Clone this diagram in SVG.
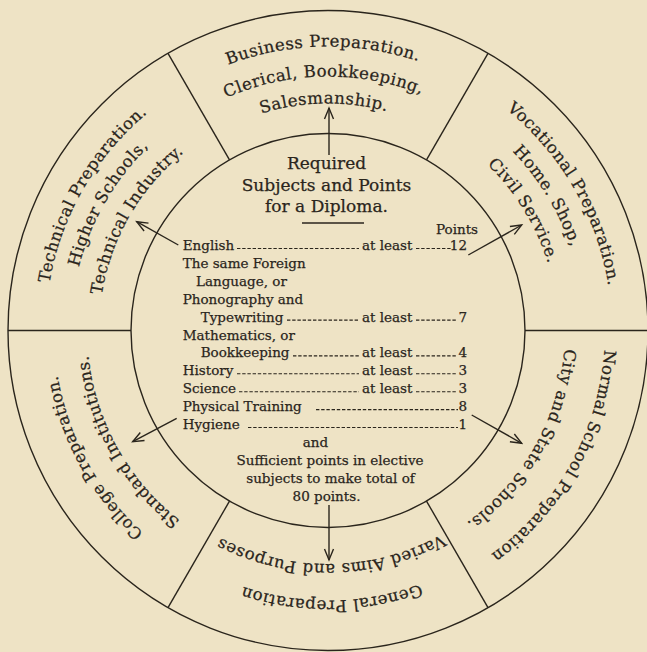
<svg xmlns="http://www.w3.org/2000/svg" width="647" height="652" viewBox="0 0 647 652">
<style>
.ink{stroke:#2a251c;fill:none}
.ring{stroke:#2a251c;fill:none;stroke-width:1.4}
.t{font-family:"DejaVu Serif","Liberation Serif",serif;fill:#2a251c;stroke:#2a251c;stroke-width:0.25}
.title{font-size:17px;text-anchor:middle}
.tb{font-size:13.5px}
.rt{font-size:16.5px;letter-spacing:0.5px}
.lead{stroke:#2a251c;stroke-width:1.1;stroke-dasharray:3.4 1.8;fill:none}
.arr{stroke:#2a251c;stroke-width:1.4;fill:none;marker-end:url(#ah)}
</style>
<defs>
<marker id="ah" viewBox="-13 -7 15 14" markerWidth="15" markerHeight="14" refX="0" refY="0" orient="auto" markerUnits="userSpaceOnUse">
<path d="M-11,-4.5 L0,0 L-11,4.5" fill="none" stroke="#2a251c" stroke-width="1.4"/>
</marker>
<path id="pTop1" d="M107.3,151.8 A284,284 0 0 1 542.3,144.2"/>
<path id="pTop2" d="M130.6,170.7 A254,254 0 0 1 519.7,163.9"/>
<path id="pTop3" d="M151.6,187.6 A227,227 0 0 1 499.3,181.6"/>
<path id="pTL1" d="M62.5,427.1 A282.5,282.5 0 0 1 279.0,52.3"/>
<path id="pTL2" d="M86.5,418.4 A257,257 0 0 1 283.4,77.4"/>
<path id="pTL3" d="M112.8,408.8 A229,229 0 0 1 288.2,105.0"/>
<path id="pTR1" d="M377.3,50.8 A284,284 0 0 1 594.9,427.6"/>
<path id="pTR2" d="M372.6,77.4 A257,257 0 0 1 569.5,418.4"/>
<path id="pTR3" d="M367.9,104.0 A230,230 0 0 1 544.1,409.2"/>
<path id="pBR1" d="M588.3,235.8 A277,277 0 0 1 376.1,603.3"/>
<path id="pBR2" d="M550.7,249.4 A237,237 0 0 1 369.1,563.9"/>
<path id="pB1" d="M534.8,504.1 A270,270 0 0 1 121.2,504.1"/>
<path id="pB2" d="M506.9,480.6 A233.5,233.5 0 0 1 149.1,480.6"/>
<path id="pBL1" d="M280.4,600.3 A274,274 0 0 1 70.5,236.8"/>
<path id="pBL2" d="M286.2,567.8 A241,241 0 0 1 101.5,248.1"/>
</defs>
<rect x="0" y="0" width="647" height="652" fill="#EEE3C5"/>

<g id="frame">
<circle class="ring" cx="328" cy="330.5" r="320"/>
<circle class="ring" cx="328" cy="330.5" r="197"/>
<line class="ring" x1="8" y1="330.5" x2="131" y2="330.5"/>
<line class="ring" x1="525" y1="330.5" x2="648" y2="330.5"/>
<line class="ring" x1="168" y1="53.4" x2="229.5" y2="159.9"/>
<line class="ring" x1="488" y1="53.4" x2="426.5" y2="159.9"/>
<line class="ring" x1="168" y1="607.6" x2="229.5" y2="501.1"/>
<line class="ring" x1="488" y1="607.6" x2="426.5" y2="501.1"/>
</g>

<g id="center">
<text class="t title" x="326.5" y="169">Required</text>
<text class="t title" x="326.5" y="190.5">Subjects and Points</text>
<text class="t title" x="326.5" y="212">for a Diploma.</text>
<line class="ink" x1="302" y1="223" x2="364" y2="223" stroke-width="1.4"/>
<text class="t tb" x="457" y="234" text-anchor="middle">Points</text>

<text class="t tb" x="182.7" y="250">English</text>
<text class="t tb" x="362" y="250">at least</text>
<text class="t tb" x="467" y="250" text-anchor="end">12</text>
<line class="lead" x1="237" y1="248.5" x2="359" y2="248.5"/>
<line class="lead" x1="416" y1="248.5" x2="452" y2="248.5"/>

<text class="t tb" x="182.7" y="267.9">The same Foreign</text>
<text class="t tb" x="196" y="285.8">Language, or</text>
<text class="t tb" x="182.7" y="303.7">Phonography and</text>

<text class="t tb" x="200.7" y="321.6">Typewriting</text>
<text class="t tb" x="362" y="321.6">at least</text>
<text class="t tb" x="467" y="321.6" text-anchor="end">7</text>
<line class="lead" x1="287" y1="320.1" x2="359" y2="320.1"/>
<line class="lead" x1="416" y1="320.1" x2="457" y2="320.1"/>

<text class="t tb" x="182.7" y="339.5">Mathematics, or</text>
<text class="t tb" x="200.7" y="357.4">Bookkeeping</text>
<text class="t tb" x="362" y="357.4">at least</text>
<text class="t tb" x="467" y="357.4" text-anchor="end">4</text>
<line class="lead" x1="293" y1="355.9" x2="359" y2="355.9"/>
<line class="lead" x1="416" y1="355.9" x2="457" y2="355.9"/>

<text class="t tb" x="182.7" y="375.3">History</text>
<text class="t tb" x="362" y="375.3">at least</text>
<text class="t tb" x="467" y="375.3" text-anchor="end">3</text>
<line class="lead" x1="237" y1="373.8" x2="359" y2="373.8"/>
<line class="lead" x1="416" y1="373.8" x2="457" y2="373.8"/>

<text class="t tb" x="182.7" y="393.2">Science</text>
<text class="t tb" x="362" y="393.2">at least</text>
<text class="t tb" x="467" y="393.2" text-anchor="end">3</text>
<line class="lead" x1="239" y1="391.7" x2="359" y2="391.7"/>
<line class="lead" x1="416" y1="391.7" x2="457" y2="391.7"/>

<text class="t tb" x="182.7" y="411.1">Physical Training</text>
<text class="t tb" x="467" y="411.1" text-anchor="end">8</text>
<line class="lead" x1="316" y1="409.6" x2="458" y2="409.6"/>

<text class="t tb" x="182.7" y="429">Hygiene</text>
<text class="t tb" x="467" y="429" text-anchor="end">1</text>
<line class="lead" x1="248" y1="427.5" x2="458" y2="427.5"/>

<text class="t tb" x="315.5" y="446.9" text-anchor="middle">and</text>
<text class="t tb" x="330" y="464.8" text-anchor="middle">Sufficient points in elective</text>
<text class="t tb" x="330.5" y="482.7" text-anchor="middle">subjects to make total of</text>
<text class="t tb" x="326.5" y="500.6" text-anchor="middle">80 points.</text>
</g>

<g id="business">
<text class="t rt"><textPath href="#pTop1" startOffset="50%" text-anchor="middle">Business Preparation.</textPath></text>
<text class="t rt"><textPath href="#pTop2" startOffset="50%" text-anchor="middle">Clerical, Bookkeeping,</textPath></text>
<text class="t rt"><textPath href="#pTop3" startOffset="50%" text-anchor="middle">Salesmanship.</textPath></text>
</g>

<g id="technical">
<text class="t rt"><textPath href="#pTL1" startOffset="50%" text-anchor="middle">Technical Preparation.</textPath></text>
<text class="t rt"><textPath href="#pTL2" startOffset="50%" text-anchor="middle">Higher Schools,</textPath></text>
<text class="t rt"><textPath href="#pTL3" startOffset="50%" text-anchor="middle">Technical Industry.</textPath></text>
</g>

<g id="vocational">
<text class="t rt"><textPath href="#pTR1" startOffset="50%" text-anchor="middle">Vocational Preparation.</textPath></text>
<text class="t rt"><textPath href="#pTR2" startOffset="48.5%" text-anchor="middle">Home. Shop,</textPath></text>
<text class="t rt"><textPath href="#pTR3" startOffset="48.5%" text-anchor="middle">Civil Service.</textPath></text>
</g>

<g id="normal">
<text class="t rt"><textPath href="#pBR1" startOffset="49%" text-anchor="middle">Normal School Preparation</textPath></text>
<text class="t rt"><textPath href="#pBR2" startOffset="49.4%" text-anchor="middle">City and State Schools.</textPath></text>
</g>

<g id="general">
<text class="t rt"><textPath href="#pB1" startOffset="49.2%" text-anchor="middle">General Preparation</textPath></text>
<text class="t rt"><textPath href="#pB2" startOffset="49.2%" text-anchor="middle">Varied Aims and Purposes</textPath></text>
</g>

<g id="college">
<text class="t rt"><textPath href="#pBL1" startOffset="51.5%" text-anchor="middle">College Preparation.</textPath></text>
<text class="t rt"><textPath href="#pBL2" startOffset="51%" text-anchor="middle">Standard Institutions.</textPath></text>
</g>

<g id="connectors">
<line class="arr" x1="329" y1="155" x2="329" y2="108"/>
<line class="arr" x1="329" y1="505" x2="329" y2="560"/>
<line class="arr" x1="178.3" y1="245" x2="136.7" y2="221.7"/>
<line class="arr" x1="468.3" y1="255" x2="521.7" y2="225"/>
<line class="arr" x1="176.7" y1="418.3" x2="132.7" y2="441.7"/>
<line class="arr" x1="471.7" y1="415" x2="521.7" y2="443.3"/>
</g>
</svg>
